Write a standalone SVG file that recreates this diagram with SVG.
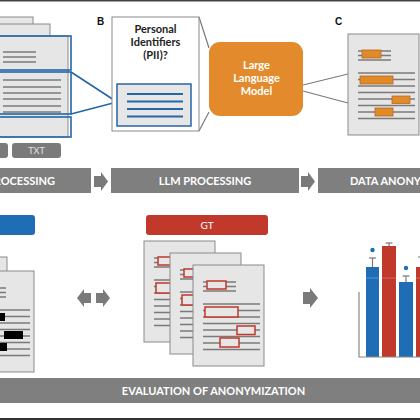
<svg xmlns="http://www.w3.org/2000/svg" xmlns:xlink="http://www.w3.org/1999/xlink" width="420" height="420" viewBox="0 0 420 420">
<style>
.doc{fill:#e6e6e6;stroke:#8a8a8a;stroke-width:1}
.ln{stroke:#7a7a7a;stroke-width:1.3;fill:none}
.bl{stroke:#2566a6;stroke-width:1.6;fill:none}
.gl{stroke:#7a7a7a;stroke-width:1.2;fill:none}
.banner{fill:#7f7f7f}
.btxt{font-family:Lato,"Open Sans",sans-serif;font-weight:700;font-size:11px;fill:#ffffff}
.arr{fill:#7a7a7a}
.ob{fill:#e08a2c;stroke:#b8681a;stroke-width:0.8}
.rb{fill:#e6e6e6;stroke:#c0392b;stroke-width:1.5}
.kb{fill:#000000}
.lbl{font-family:"Liberation Sans",Arial,sans-serif;font-weight:700;font-size:10px;fill:#111}
</style>
<defs>
<g id="doclines" class="ln">
<line x1="10" y1="17" x2="43" y2="17"/>
<line x1="10" y1="21.5" x2="43" y2="21.5"/>
<line x1="10" y1="26" x2="43" y2="26"/>
<line x1="10" y1="39" x2="67" y2="39"/>
<line x1="10" y1="45.5" x2="67" y2="45.5"/>
<line x1="10" y1="52" x2="67" y2="52"/>
<line x1="10" y1="58.5" x2="67" y2="58.5"/>
<line x1="10" y1="65" x2="67" y2="65"/>
<line x1="10" y1="71.5" x2="67" y2="71.5"/>
<line x1="10" y1="78" x2="67" y2="78"/>
<line x1="10" y1="84.5" x2="67" y2="84.5"/>
</g>
<g id="gtdoc">
<rect class="doc" x="0" y="0" width="71" height="101"/>
<use xlink:href="#doclines"/>
<rect class="rb" x="14" y="16" width="19" height="8"/>
<rect class="rb" x="12" y="42" width="33" height="10"/>
<rect class="rb" x="44" y="61" width="18" height="8.5"/>
<rect class="rb" x="27" y="73" width="19" height="9"/>
</g>
</defs>
<rect x="0" y="0" width="420" height="420" fill="#ffffff"/>
<rect x="0" y="0" width="420" height="1.5" fill="#444"/>
<rect x="0" y="418" width="420" height="2" fill="#333"/>

<g id="connectors">
<line class="bl" x1="71" y1="72" x2="117" y2="102"/>
<line class="bl" x1="71" y1="114" x2="117" y2="102"/>
<line class="gl" x1="199" y1="17" x2="209" y2="48"/>
<line class="gl" x1="199" y1="131" x2="209" y2="112"/>
<line class="gl" x1="303" y1="85" x2="348" y2="74"/>
<line class="gl" x1="303" y1="91" x2="348" y2="103"/>
</g>

<g id="input-docs">
<rect class="doc" x="-40" y="17" width="73" height="110"/>
<rect class="doc" x="-30" y="24" width="80" height="110"/>
<rect class="doc" x="-1" y="36" width="69" height="101"/>
<rect class="bl" x="-1" y="36" width="72" height="34"/>
<rect class="bl" x="-1" y="72" width="72" height="42"/>
<rect class="bl" x="-1" y="117" width="72" height="20"/>
<g class="ln">
<line x1="3" y1="52" x2="36" y2="52"/>
<line x1="3" y1="57" x2="36" y2="57"/>
<line x1="3" y1="62" x2="36" y2="62"/>
<line x1="3" y1="80" x2="61" y2="80"/>
<line x1="3" y1="87" x2="61" y2="87"/>
<line x1="3" y1="93" x2="61" y2="93"/>
<line x1="3" y1="99" x2="61" y2="99"/>
<line x1="3" y1="106" x2="61" y2="106"/>
<line x1="3" y1="112" x2="61" y2="112"/>
</g>
</g>

<g id="format-tags">
<rect x="-6" y="143" width="14" height="15" rx="3" fill="#7a7a7a"/>
<rect x="12" y="143" width="49" height="15" rx="3" fill="#7a7a7a"/>
<text x="36.5" y="154" text-anchor="middle" font-family="Lato,'Open Sans',sans-serif" font-size="9" fill="#e4e4e4">TXT</text>
</g>

<g id="pii-box">
<text class="lbl" x="97" y="25">B</text>
<rect x="112" y="17" width="87" height="114" fill="#ffffff" stroke="#8a8a8a" stroke-width="1"/>
<g font-family="Lato,'Open Sans',sans-serif" font-weight="700" font-size="11" fill="#222" text-anchor="middle">
<text x="155.5" y="33">Personal</text>
<text x="155.5" y="46">Identifiers</text>
<text x="155.5" y="59">(PII)?</text>
</g>
<rect x="117" y="84" width="74" height="42" fill="#e6e6e6" stroke="#2566a6" stroke-width="1.5"/>
<g stroke="#2566a6" stroke-width="2">
<line x1="127" y1="94" x2="183" y2="94"/>
<line x1="127" y1="101.5" x2="183" y2="101.5"/>
<line x1="127" y1="109" x2="183" y2="109"/>
<line x1="127" y1="116.5" x2="183" y2="116.5"/>
</g>
</g>

<g id="llm">
<rect x="209" y="42" width="94" height="74" rx="11" fill="#e38b2c"/>
<g font-family="Lato,'Open Sans',sans-serif" font-weight="700" font-size="11" fill="#ffffff" text-anchor="middle">
<text x="256.5" y="69">Large</text>
<text x="256.5" y="82">Language</text>
<text x="256.5" y="95">Model</text>
</g>
</g>

<g id="anon-doc">
<text class="lbl" x="335" y="25">C</text>
<g transform="translate(348,34)">
<rect class="doc" x="0" y="0" width="71" height="101"/>
<use xlink:href="#doclines"/>
<rect class="ob" x="14" y="16" width="19" height="8"/>
<rect class="ob" x="12" y="42" width="33" height="8"/>
<rect class="ob" x="44" y="62" width="18" height="7.5"/>
<rect class="ob" x="27" y="74" width="18" height="8"/>
</g>
</g>

<g id="banners">
<rect class="banner" x="-2" y="168" width="93" height="25"/>
<text class="btxt" x="55" y="185" text-anchor="end">PROCESSING</text>
<path class="arr" d="M94,176 H101 V172 L108,181.5 L101,191 V187 H94 Z"/>
<rect class="banner" x="111" y="168" width="188" height="25"/>
<text class="btxt" x="205" y="185" text-anchor="middle">LLM PROCESSING</text>
<path class="arr" d="M301,176 H308 V172 L315,181.5 L308,191 V187 H301 Z"/>
<rect class="banner" x="318" y="168" width="104" height="25"/>
<text class="btxt" x="350" y="185">DATA ANONYMIZATION</text>
</g>

<g id="anonymized-docs">
<rect x="-10" y="215" width="45" height="20" rx="3" fill="#1f6db5"/>
<rect class="doc" x="-64" y="257" width="71" height="101"/>
<g transform="translate(-37,271)">
<rect class="doc" x="0" y="0" width="71" height="101"/>
<use xlink:href="#doclines"/>
<rect class="kb" x="14" y="16" width="19" height="8"/>
<rect class="kb" x="12" y="42" width="30" height="8"/>
<rect class="kb" x="41" y="60" width="19" height="8"/>
<rect class="kb" x="27" y="72" width="17" height="8"/>
</g>
</g>

<g id="compare-arrows">
<path class="arr" d="M77,298 L84,289 V293 H91 V303 H84 V307 Z"/>
<path class="arr" d="M110,298 L103,289 V293 H96 V303 H103 V307 Z"/>
</g>

<g id="gt-docs">
<rect x="146" y="215" width="122" height="20" rx="3" fill="#c0392b"/>
<text x="207" y="229" text-anchor="middle" font-family="Lato,'Open Sans',sans-serif" font-size="10" fill="#ffffff">GT</text>
<use xlink:href="#gtdoc" transform="translate(144,241)"/>
<use xlink:href="#gtdoc" transform="translate(170,253)"/>
<use xlink:href="#gtdoc" transform="translate(193,265)"/>
</g>

<path class="arr" d="M303,292 H310 V288 L318,298 L310,308 V304 H303 Z"/>

<g id="chart">
<g stroke="#777" stroke-width="1.2" fill="none">
<line x1="372.5" y1="267" x2="372.5" y2="258"/>
<line x1="369" y1="258" x2="376" y2="258"/>
<line x1="389" y1="246" x2="389" y2="243"/>
<line x1="385.5" y1="243" x2="392.5" y2="243"/>
<line x1="406" y1="282" x2="406" y2="276"/>
<line x1="402.5" y1="276" x2="409.5" y2="276"/>
<line x1="418" y1="257" x2="423" y2="257"/>
</g>
<rect x="366" y="267" width="13" height="90" fill="#1f6db5"/>
<rect x="382" y="246" width="14" height="111" fill="#c0392b"/>
<rect x="399" y="282" width="14" height="75" fill="#1f6db5"/>
<rect x="416" y="267" width="10" height="90" fill="#c0392b"/>
<line x1="366" y1="278" x2="420" y2="278" stroke="#ffffff" stroke-opacity="0.25" stroke-width="1"/>
<circle cx="372.5" cy="250" r="2.2" fill="#1f6db5"/>
<circle cx="406" cy="268" r="2.2" fill="#1f6db5"/>
<path d="M359,292 V357 H420" stroke="#888" stroke-width="1.2" fill="none"/>
</g>

<g id="eval-banner">
<rect class="banner" x="-2" y="378" width="424" height="25"/>
<text class="btxt" x="213.5" y="394.5" text-anchor="middle">EVALUATION OF ANONYMIZATION</text>
</g>
</svg>
